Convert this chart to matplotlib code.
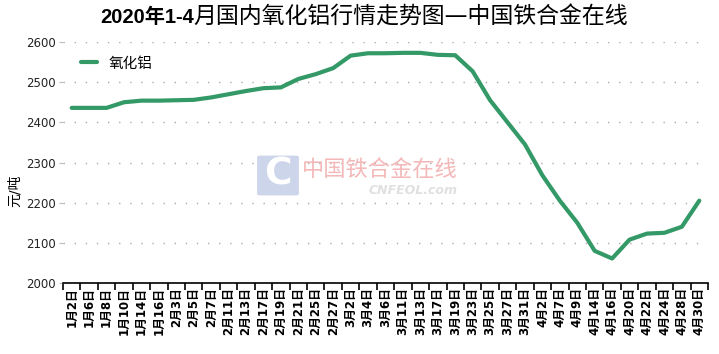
import matplotlib
matplotlib.use("Agg")
import matplotlib.pyplot as plt
from matplotlib.patches import FancyBboxPatch

plt.rcParams["font.family"] = ["DejaVu Sans", "Noto Sans CJK SC"]

# data
dates = ["1月2日", "1月6日", "1月8日", "1月10日", "1月14日", "1月16日",
         "2月3日", "2月5日", "2月7日", "2月11日", "2月13日", "2月17日",
         "2月19日", "2月21日", "2月25日", "2月27日", "3月2日", "3月4日",
         "3月6日", "3月11日", "3月13日", "3月17日", "3月19日", "3月23日",
         "3月25日", "3月27日", "3月31日", "4月2日", "4月7日", "4月9日",
         "4月14日", "4月16日", "4月20日", "4月22日", "4月24日", "4月28日",
         "4月30日"]
prices = [2436, 2436, 2436, 2450, 2454, 2454,
          2455, 2456, 2462, 2470, 2478, 2485,
          2487, 2508, 2520, 2535, 2566, 2572,
          2572, 2573, 2573, 2568, 2567, 2527,
          2455, 2400, 2345, 2268, 2205, 2150,
          2080, 2061, 2108, 2123, 2125, 2140,
          2205]
yticks = [2000, 2100, 2200, 2300, 2400, 2500, 2600]

GREEN = "#339966"

fig = plt.figure(figsize=(7.19, 3.54), dpi=100)
ax = fig.add_axes([63 / 719, 1 - 283 / 354, (708 - 63) / 719, (283 - 42) / 354])

x = list(range(len(dates)))
ax.plot(x, prices, color=GREEN, lw=3.0, solid_capstyle="round",
        solid_joinstyle="round", label="氧化铝", zorder=5)

ax.set_xlim(-0.5, len(dates) - 0.5)
ax.set_ylim(2000, 2600)
ax.set_yticks(yticks)
ax.set_yticklabels([str(v) for v in yticks], fontsize=8.5, color="#222222")
ax.set_xticks(x)
ax.set_xticklabels(dates, rotation=90, fontsize=8.5, fontweight="bold")
ax.set_xticks([i - 0.5 for i in range(len(dates) + 1)], minor=True)
ax.tick_params(axis="x", which="major", length=0, pad=3)
ax.tick_params(axis="x", which="minor", length=5, width=1.2, color="black")
ax.tick_params(axis="y", length=3, color="#bbbbbb", pad=2)

ax.grid(axis="y", linestyle=(0, (1, 7)), color="#aaaaaa", lw=1)
for s in ["top", "right", "left"]:
    ax.spines[s].set_visible(False)
ax.spines["bottom"].set_linewidth(1.2)

ax.legend(loc="upper left", bbox_to_anchor=(0.005, 1.0), frameon=False,
          handlelength=1.1, borderaxespad=0.6,
          prop={"family": ["Noto Sans CJK SC"], "size": 10.5})

fig.text(0.02, 0.46, "元/吨", rotation=90, fontsize=10, ha="center", va="center",
         family=["DejaVu Sans", "Noto Sans CJK SC"])

# title: bold numbers, regular text
t1 = fig.text(100 / 719, 1 - 17 / 354, "2020年1-4", fontsize=14.5, fontweight="bold",
              ha="left", va="center", family=["Liberation Sans", "Noto Sans CJK SC"])
ax.annotate("月国内氧化铝行情走势图—中国铁合金在线", xy=(1, 0.5), xycoords=t1,
            fontsize=16.5, ha="left", va="center", annotation_clip=False,
            family=["DejaVu Sans", "Noto Sans CJK SC"])

# watermark
logo = FancyBboxPatch((260 / 719, 1 - 194 / 354), 36 / 719, 37 / 354,
                      boxstyle="round,pad=0.004", transform=fig.transFigure,
                      facecolor="#cdd5ea", edgecolor="none", zorder=0)
fig.patches.append(logo)
fig.text(278 / 719, 1 - 175 / 354, "C", fontsize=27, fontweight="bold", color="white",
         ha="center", va="center", zorder=1)
fig.text(302 / 719, 1 - 170 / 354, "中国铁合金在线", fontsize=16, color="#f4b8b8",
         ha="left", va="center", family=["Noto Sans CJK SC"], zorder=1)
fig.text(458 / 719, 1 - 190 / 354, "CNFEOL.com", fontsize=9, color="#e0e0e0",
         fontweight="bold", style="italic", ha="right", va="center", zorder=1)

fig.savefig("out.png", dpi=100)
